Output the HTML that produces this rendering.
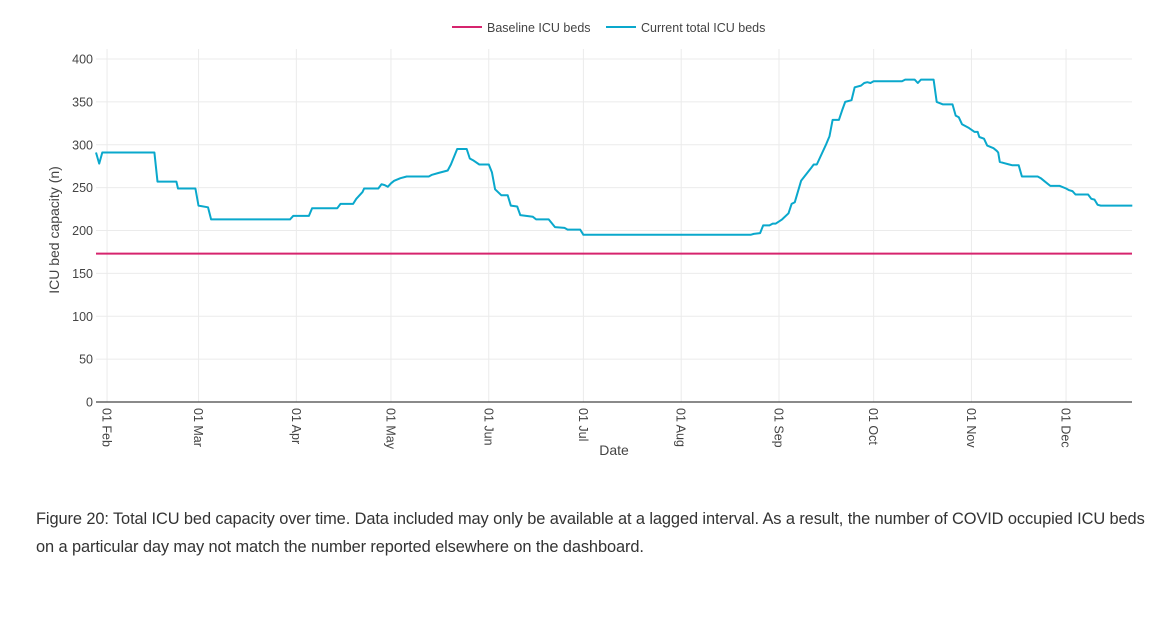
<!DOCTYPE html>
<html><head><meta charset="utf-8"><style>
body{margin:0;background:#fff;width:1172px;height:635px;overflow:hidden;font-family:"Liberation Sans",sans-serif}
#cap{position:absolute;left:36px;top:505px;width:1112px;font-size:16.4px;line-height:28px;color:#333;letter-spacing:-0.1px}
</style></head><body>
<svg id="chart" width="1172" height="500" style="position:absolute;left:0;top:0" font-family="Liberation Sans, sans-serif"></svg>
<div id="cap">Figure 20: Total ICU bed capacity over time. Data included may only be available at a lagged interval. As a result, the number of COVID occupied ICU beds on a particular day may not match the number reported elsewhere on the dashboard.</div>
<script>
const monthLabels=["01 Feb","01 Mar","01 Apr","01 May","01 Jun","01 Jul","01 Aug","01 Sep","01 Oct","01 Nov","01 Dec"];
const monthDays=[0,29,60,90,121,151,182,213,243,274,304];
const yTicks=[0,50,100,150,200,250,300,350,400];
const baselineValue=173;
const days=[-3.5,-2.5,-1.5,15,16,22,22.5,28,29,32,33,58,59,64,65,73,74,78,79,81,81.5,86,87,88,89,90,91,93,95,102,103,105,108,109,111,114,115,116,118,121,122,123,125,127,128,130,131,135,136,140,142,145,146,150,151,204,205,207,208,210,211,212,214,216,217,218,220,223,224,225,228,229,230,232,233,234,236,237,239,240,241,242,243,252,253,256,257,258,262,263,265,268,269,270,271,273,275,276,276.5,278,279,281,282,282.5,283,284,286,287,289,290,295,296,297,299,302,304,305,306,307,311,312,313,314,315,325];
const values=[291,278,291,291,257,257,249,249,229,227,213,213,217,217,226,226,231,231,237,245,249,249,254,253,251,255,258,261,263,263,265,267,270,277,295,295,284,282,277,277,268,248,241,241,229,228,218,216,213,213,204,203,201,201,195,195,196,197,206,206,208,208,213,220,231,233,258,272,277,277,301,310,329,329,340,350,352,367,369,372,373,372,374,374,376,376,372,376,376,350,347,347,334,332,324,320,315,315,309,307,299,296,293,291,280,279,277,276,276,263,263,261,258,252,252,249,247,246,242,242,237,236,230,229,229];
const svg=document.getElementById('chart');
const NS='http://www.w3.org/2000/svg';
const L=96,R=1132,T=59,B=402,D0=-3.5,D1=324.9;
const xs=d=>L+(d-D0)/(D1-D0)*(R-L);
const ys=v=>B-v/400*(B-T);
function mk(t,a,txt){const e=document.createElementNS(NS,t);for(const k in a)e.setAttribute(k,a[k]);if(txt!==undefined)e.textContent=txt;svg.appendChild(e);return e;}
yTicks.forEach(v=>{
 if(v>0){const g=mk('line',{x1:L,x2:R,y1:ys(v),y2:ys(v),stroke:'#ebebeb','stroke-width':1});
 
 }
 const t=mk('text',{x:L-3,y:ys(v)+4.5,'text-anchor':'end','font-size':12.5,fill:'#444'},v);
 
 
});
monthDays.forEach((d,i)=>{
 const x=xs(d);
 const g=mk('line',{x1:x,x2:x,y1:T-10,y2:B,stroke:'#ebebeb','stroke-width':1});
 
 
 const t=mk('text',{x:x-4.5,y:B+6,'font-size':12.5,fill:'#444',transform:`rotate(90 ${x-4.5} ${B+6})`},monthLabels[i]);
 
 
});
const z=mk('line',{x1:L,x2:R,y1:B,y2:B,stroke:'#444','stroke-width':1.3});


const bl=mk('line',{x1:L,x2:R,y1:ys(baselineValue),y2:ys(baselineValue),stroke:'#d6246e','stroke-width':2});


const pts=days.map((d,i)=>xs(d).toFixed(1)+','+ys(values[i]).toFixed(1)).join(' ');
const cl=mk('polyline',{points:pts,fill:'none',stroke:'#0aa8cc','stroke-width':2,'stroke-linejoin':'round'});


const xt=mk('text',{x:614,y:455,'text-anchor':'middle','font-size':14,fill:'#444'},'Date');


const yt=mk('text',{x:59,y:230,'text-anchor':'middle','font-size':14,fill:'#444',transform:'rotate(-90 59 230)'},'ICU bed capacity (n)');


const l1=mk('line',{x1:452,x2:482,y1:27,y2:27,stroke:'#d6246e','stroke-width':2});


const lt1=mk('text',{x:487,y:32,'font-size':12.5,fill:'#444'},'Baseline ICU beds');


const l2=mk('line',{x1:606,x2:636,y1:27,y2:27,stroke:'#0aa8cc','stroke-width':2});


const lt2=mk('text',{x:641,y:32,'font-size':12.5,fill:'#444'},'Current total ICU beds');


</script>
</body></html>
